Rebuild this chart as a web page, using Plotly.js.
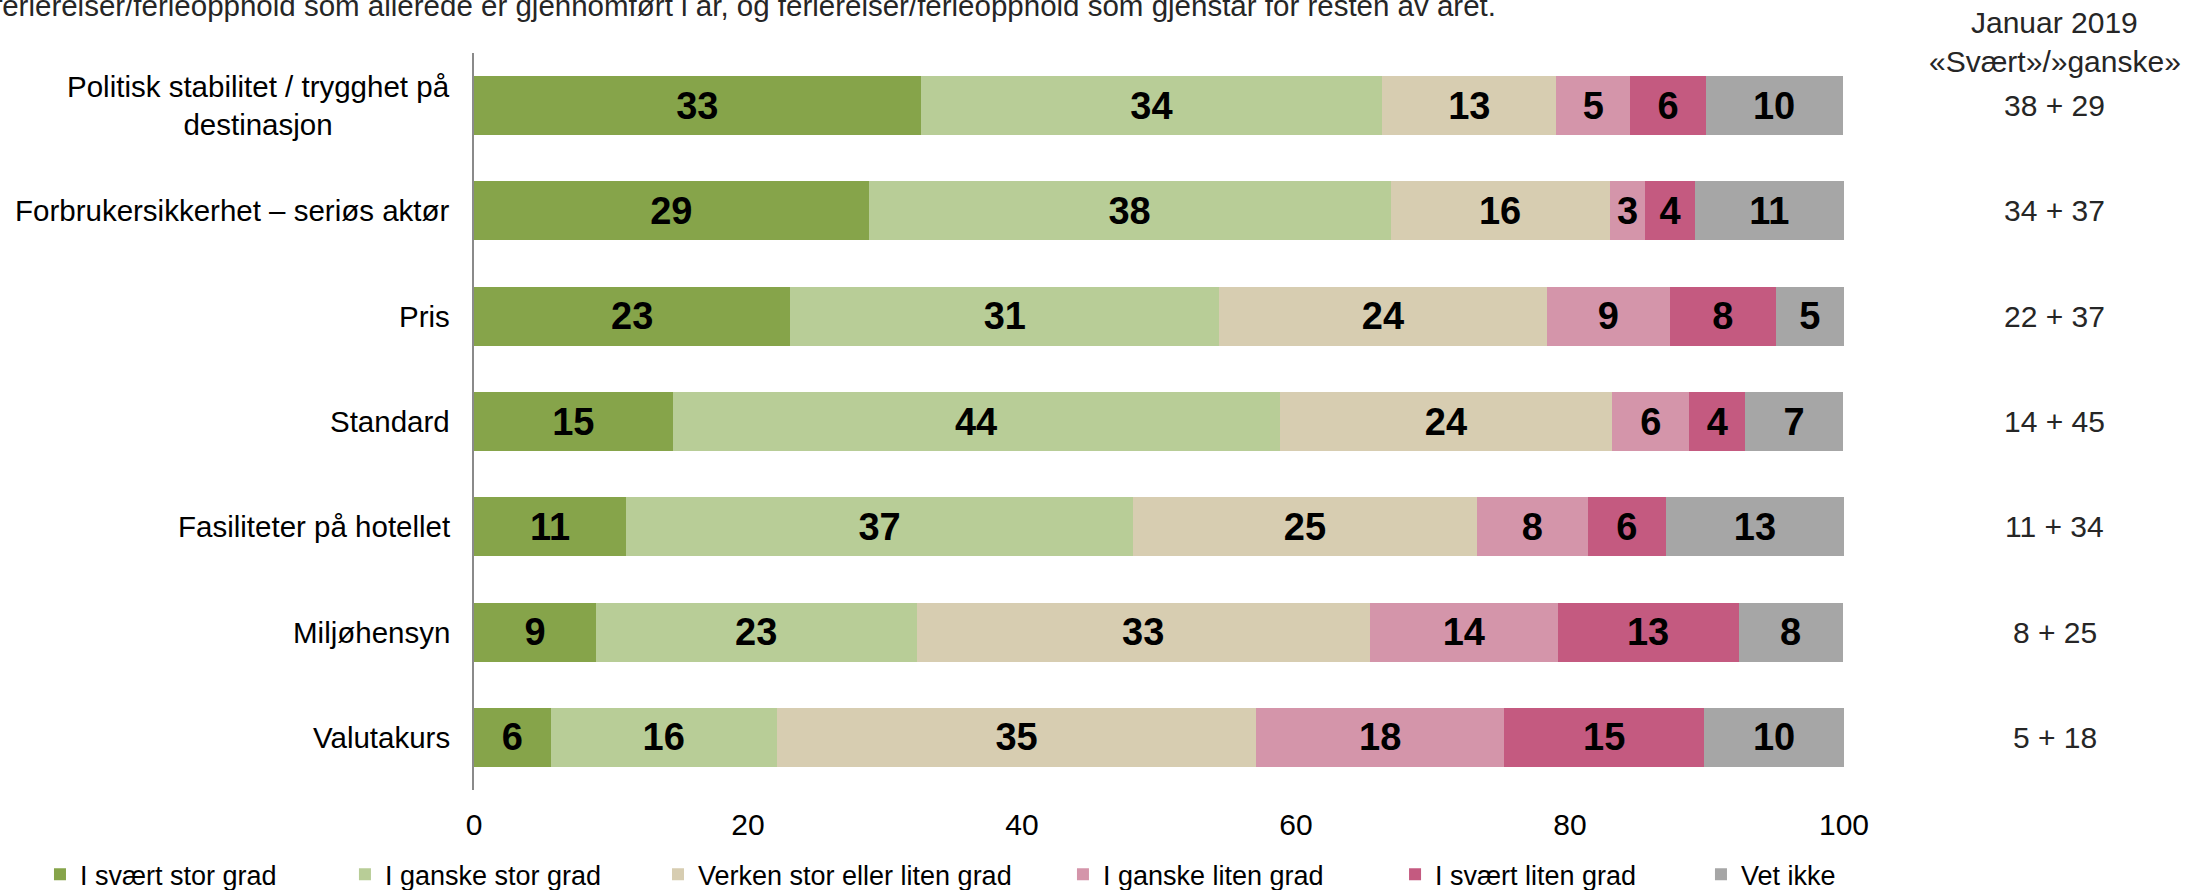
<!DOCTYPE html>
<html>
<head>
<meta charset="utf-8">
<script src="https://cdn.plot.ly/plotly-3.0.1.min.js"></script>
<style>html,body{margin:0;padding:0;background:#fff;}#chart{width:2185px;height:890px;}</style>
</head>
<body>
<div id="chart"></div>
<script>
// ---- Data ----
const categories = [
  'Politisk stabilitet / trygghet på destinasjon',
  'Forbrukersikkerhet – seriøs aktør',
  'Pris',
  'Standard',
  'Fasiliteter på hotellet',
  'Miljøhensyn',
  'Valutakurs'
];
const categoryLabels = [
  'Politisk stabilitet / trygghet på<br>destinasjon',
  'Forbrukersikkerhet – seriøs aktør',
  'Pris',
  'Standard',
  'Fasiliteter på hotellet',
  'Miljøhensyn',
  'Valutakurs'
];
const seriesNames = ['I svært stor grad', 'I ganske stor grad', 'Verken stor eller liten grad',
                     'I ganske liten grad', 'I svært liten grad', 'Vet ikke'];
const svaertStor   = [32.6, 28.8, 23.1, 14.5, 11.1, 8.9, 5.6];
const ganskeStor   = [33.7, 38.1, 31.3, 44.3, 37.0, 23.4, 16.5];
const verken       = [12.7, 16.0, 23.9, 24.3, 25.1, 33.1, 35.0];
const ganskeLiten  = [5.4, 2.6, 9.0, 5.6, 8.1, 13.7, 18.1];
const svaertLiten  = [5.5, 3.6, 7.7, 4.1, 5.7, 13.2, 14.6];
const vetIkke      = [10.0, 10.9, 5.0, 7.1, 13.0, 7.6, 10.2];
const labelsSvaertStor  = [33, 29, 23, 15, 11, 9, 6];
const labelsGanskeStor  = [34, 38, 31, 44, 37, 23, 16];
const labelsVerken      = [13, 16, 24, 24, 25, 33, 35];
const labelsGanskeLiten = [5, 3, 9, 6, 8, 14, 18];
const labelsSvaertLiten = [6, 4, 8, 4, 6, 13, 15];
const labelsVetIkke     = [10, 11, 5, 7, 13, 8, 10];
const jan2019 = ['38 + 29', '34 + 37', '22 + 37', '14 + 45', '11 + 34', '8 + 25', '5 + 18'];
const xTicks = [0, 20, 40, 60, 80, 100];
const headerText = 'feriereiser/ferieopphold som allerede er gjennomført i år, og feriereiser/ferieopphold som gjenstår for resten av året.';
const rightTitle1 = 'Januar 2019';
const rightTitle2 = '«Svært»/»ganske»';

// ---- Styling ----
const colors = ['#86A44A', '#B8CD97', '#D7CDB1', '#D495AA', '#C45A80', '#A6A6A6'];
const values = [svaertStor, ganskeStor, verken, ganskeLiten, svaertLiten, vetIkke];
const labels = [labelsSvaertStor, labelsGanskeStor, labelsVerken, labelsGanskeLiten, labelsSvaertLiten, labelsVetIkke];
const legendX = [-0.3168, -0.0942, 0.1343, 0.4299, 0.6723, 0.8956];
const FONT = 'Liberation Sans, Arial, sans-serif';

const traces = values.map((v, i) => ({
  type: 'bar',
  orientation: 'h',
  name: seriesNames[i],
  x: v,
  y: categories,
  text: labels[i].map(String),
  textposition: 'inside',
  insidetextanchor: 'middle',
  constraintext: 'none',
  textfont: {family: FONT, size: 38, color: '#000', weight: 'bold'},
  marker: {color: colors[i], line: {width: 0}},
  hoverinfo: 'skip',
  legend: i === 0 ? 'legend' : 'legend' + (i + 1)
}));

const layout = {
  width: 2185,
  height: 890,
  margin: {l: 474, r: 341, t: 53, b: 100, autoexpand: false},
  paper_bgcolor: '#fff',
  plot_bgcolor: '#fff',
  barmode: 'stack',
  bargap: 0.44,
  font: {family: FONT, color: '#000'},
  xaxis: {
    range: [0, 100],
    tickvals: xTicks,
    ticktext: xTicks.map(String),
    showgrid: false,
    zeroline: false,
    showline: false,
    ticks: '',
    ticklabelstandoff: 14,
    tickfont: {family: FONT, size: 30, color: '#000'},
    fixedrange: true
  },
  yaxis: {
    type: 'category',
    categoryorder: 'array',
    categoryarray: categories,
    autorange: 'reversed',
    showticklabels: false,
    showgrid: false,
    zeroline: false,
    showline: true,
    linecolor: '#8A8A8A',
    linewidth: 2,
    ticks: '',
    fixedrange: true
  },
  annotations: [],
  showlegend: true
};

seriesNames.forEach((n, i) => {
  const key = i === 0 ? 'legend' : 'legend' + (i + 1);
  layout[key] = {
    orientation: 'h',
    x: legendX[i],
    xanchor: 'left',
    y: -0.115,
    yanchor: 'middle',
    font: {family: FONT, size: 27, color: '#000'},
    bgcolor: 'rgba(0,0,0,0)',
    itemclick: false,
    itemdoubleclick: false
  };
});

// category labels and January 2019 column
categories.forEach((c, i) => {
  layout.annotations.push({
    xref: 'paper', yref: 'y', x: 0, y: c,
    xanchor: 'right', yanchor: 'middle', xshift: -22,
    text: categoryLabels[i], align: 'center', showarrow: false,
    font: {family: FONT, size: 29.5, color: '#000'}
  });
  layout.annotations.push({
    xref: 'paper', yref: 'y', x: 1.154, y: c,
    xanchor: 'center', yanchor: 'middle',
    text: jan2019[i], showarrow: false,
    font: {family: FONT, size: 30, color: '#262626'}
  });
});

layout.annotations.push({
  xref: 'paper', yref: 'paper', x: 1.154, y: 1.042,
  xanchor: 'center', yanchor: 'middle', text: rightTitle1, showarrow: false,
  font: {family: FONT, size: 30, color: '#262626'}
});
layout.annotations.push({
  xref: 'paper', yref: 'paper', x: 1.154, y: 0.989,
  xanchor: 'center', yanchor: 'middle', text: rightTitle2, showarrow: false,
  font: {family: FONT, size: 30, color: '#262626'}
});
layout.annotations.push({
  xref: 'paper', yref: 'paper', x: -0.352, y: 1.064,
  xanchor: 'left', yanchor: 'middle', text: headerText, showarrow: false,
  font: {family: FONT, size: 29.5, color: '#262626'}
});

Plotly.newPlot('chart', traces, layout, {displayModeBar: false, staticPlot: true});
</script>
</body>
</html>
